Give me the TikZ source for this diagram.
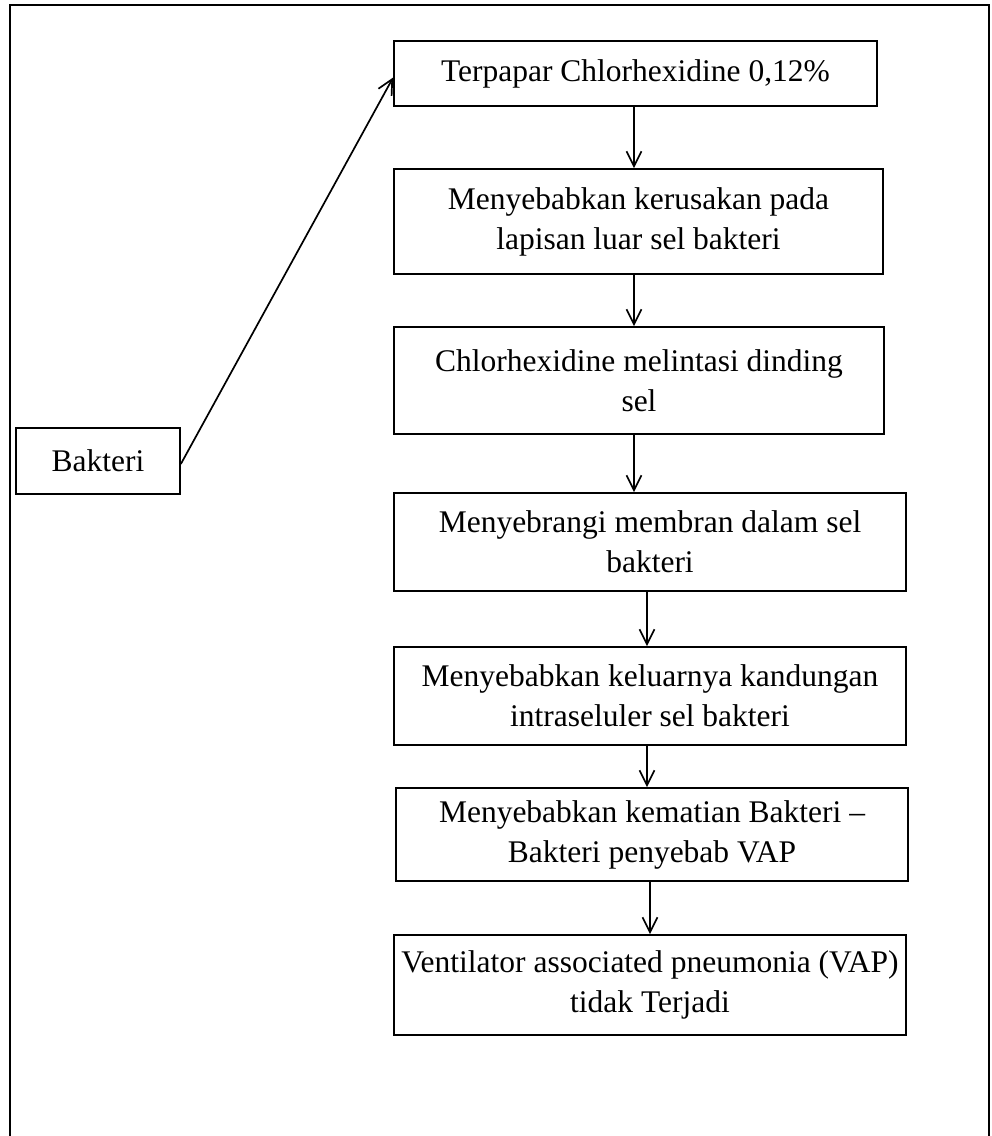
\documentclass[tikz,border=0pt]{standalone}
\usepackage{fontspec}
\setmainfont{Liberation Serif}
\usetikzlibrary{arrows.meta}
\begin{document}
\begin{tikzpicture}[x=1pt,y=-1pt,
  box/.style={draw,line width=1.7pt,align=center,inner sep=0pt,
    font=\fontsize{31.5}{40}\selectfont},
  arr/.style={line width=1.7pt,-{Straight Barb[length=15pt,width=15pt]}},
  frame/.style={line width=1.5pt}]
\useasboundingbox (0,0) rectangle (992,1136);
\coordinate (fbl) at (10,1136);
\coordinate (ftl) at (10,5);
\coordinate (ftr) at (989,5);
\coordinate (fbr) at (989,1136);
\draw[frame] (fbl) -- (ftl) -- (ftr) -- (fbr);
\node[box,minimum width=483pt,minimum height=65pt] (b1) at (635.5,73.5) {Terpapar Chlorhexidine 0,12\%};
\node[box,minimum width=489pt,minimum height=105pt] (b2) at (638.5,221.5) {Menyebabkan kerusakan pada\\lapisan luar sel bakteri};
\node[box,minimum width=490pt,minimum height=107pt] (b3) at (639,380.5) {Chlorhexidine melintasi dinding\\sel};
\node[box,minimum width=512pt,minimum height=98pt] (b4) at (650,542) {Menyebrangi membran dalam sel\\bakteri};
\node[box,minimum width=512pt,minimum height=98pt] (b5) at (650,696) {Menyebabkan keluarnya kandungan\\intraseluler sel bakteri};
\node[box,minimum width=512pt,minimum height=93pt] (b6) at (652,834.5) {Menyebabkan kematian Bakteri –\\Bakteri penyebab VAP};
\node[box,minimum width=512pt,minimum height=100pt] (b7) at (650,985) {Ventilator associated pneumonia (VAP)\\tidak Terjadi};
\node[box,minimum width=164pt,minimum height=66pt] (bak) at (98,461) {Bakteri};
\draw[arr] ([yshift=-3pt]bak.east) -- ([yshift=-4pt]b1.west);
\draw[arr] ([xshift=-1.5pt]b1.south) -- ([xshift=-1.5pt]b1.south |- b2.north);
\draw[arr] ([xshift=-4.5pt]b2.south) -- ([xshift=-4.5pt]b2.south |- b3.north);
\draw[arr] ([xshift=-5pt]b3.south) -- ([xshift=-5pt]b3.south |- b4.north);
\draw[arr] ([xshift=-3pt]b4.south) -- ([xshift=-3pt]b4.south |- b5.north);
\draw[arr] ([xshift=-3pt]b5.south) -- ([xshift=-3pt]b5.south |- b6.north);
\draw[arr] ([xshift=-2pt]b6.south) -- ([xshift=-2pt]b6.south |- b7.north);
\end{tikzpicture}
\end{document}
